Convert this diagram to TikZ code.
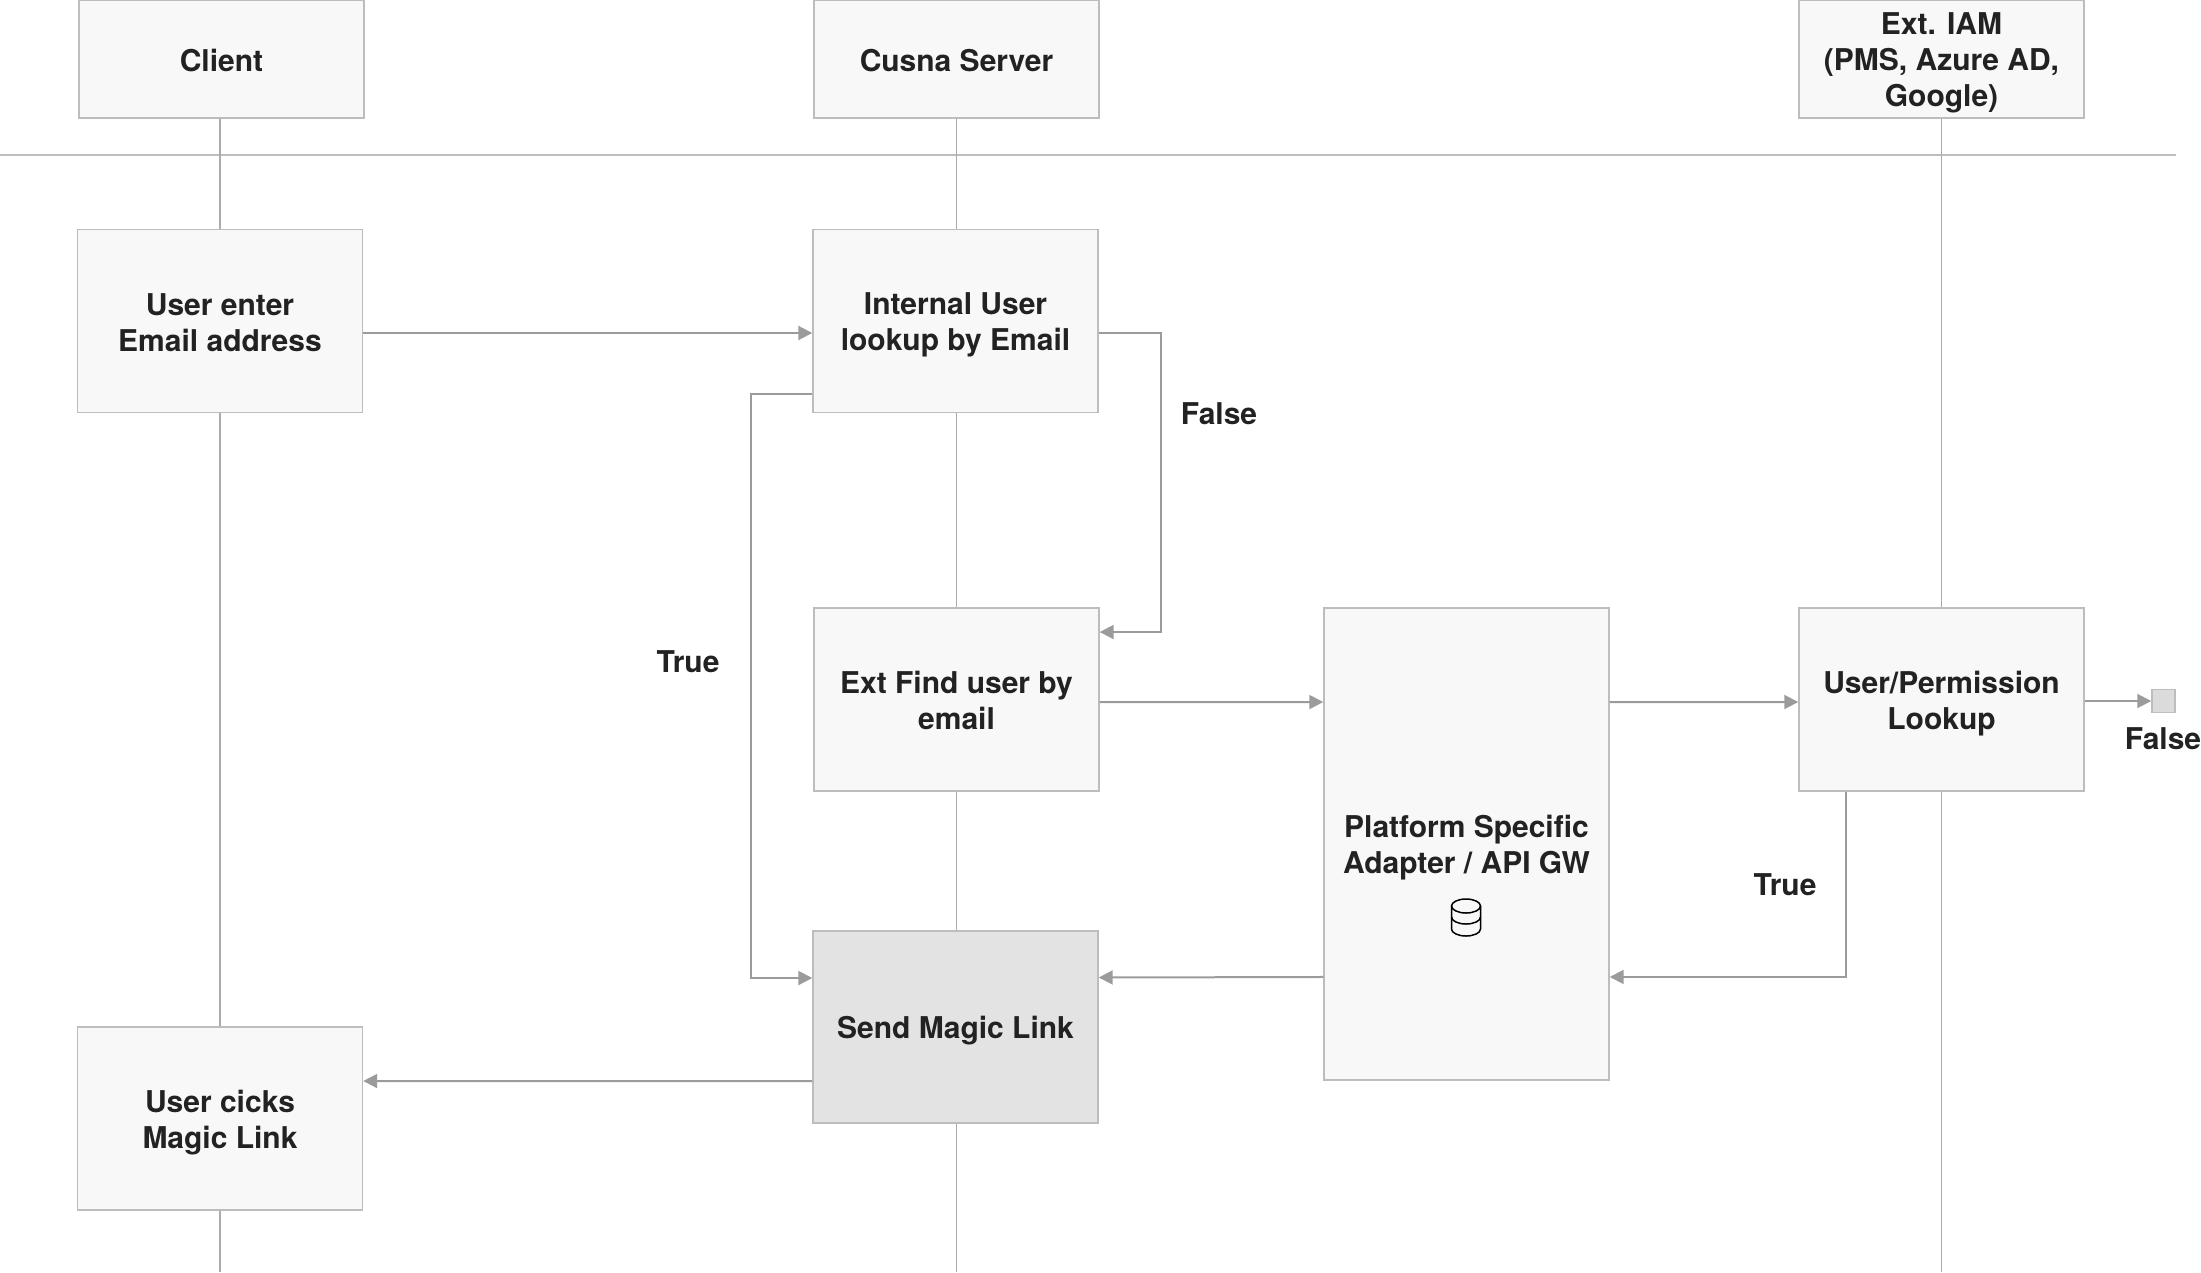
\documentclass[tikz,border=0pt]{standalone}
\usepackage{fontspec}
\setmainfont{TeX Gyre Heros}
\usetikzlibrary{arrows.meta}
\definecolor{boxfill}{HTML}{F8F8F8}
\definecolor{sendfill}{HTML}{E3E3E3}
\definecolor{stopfill}{HTML}{DBDBDB}
\definecolor{boxline}{HTML}{BDBDBD}
\definecolor{flowline}{HTML}{9B9B9B}
\definecolor{lifecolor}{HTML}{ABABAB}
\definecolor{inkcolor}{HTML}{222222}
\newcommand{\boxtext}[1]{\rule{0pt}{17pt}#1\rule[-3.2pt]{0pt}{3.2pt}}
\tikzset{
	box/.style={draw=boxline, fill=boxfill, line width=0.03cm, minimum width=5.7cm, align=center, inner sep=0pt, text=inkcolor, font=\fontsize{17.07}{20.5}\selectfont\bfseries},
	note/.style={inner sep=0pt, text=inkcolor, font=\fontsize{17.07}{20.5}\selectfont\bfseries},
	flow/.style={draw=flowline, line width=0.04cm, -{Triangle[length=0.28cm,width=0.28cm]}},
	lifeline/.style={draw=lifecolor, line width=0.026cm},
	divider/.style={draw=boxline, line width=0.03cm}
}

\begin{document}
\begin{tikzpicture}[x=0.02cm, y=-0.02cm]
			%%%%% START %%%%%
			\useasboundingbox (0, 0) rectangle (2201, 1272);
			
			\coordinate (ruleL) at (0, 155);
			\coordinate (ruleR) at (2176, 155);
			\draw[divider] (ruleL) -- (ruleR);
			
			%%%%% columns
			\node[box, minimum height=2.36cm] (client) at (221.5, 59) {\boxtext{Client}};
			\node[box, minimum height=2.36cm] (server) at (956.5, 59) {\boxtext{Cusna Server}};
			\node[box, minimum height=2.36cm] (iam) at (1941.5, 59) {\boxtext{Ext. IAM\\(PMS, Azure AD,\\Google)}};
			
			%%%%% steps
			\node[box, minimum height=3.66cm] (enter) at (220, 321) {\boxtext{User enter\\Email address}};
			\node[box, minimum height=3.66cm] (internal) at (955.5, 321) {\boxtext{Internal User\\lookup by Email}};
			\node[box, minimum height=3.66cm] (extfind) at (956.5, 699.5) {\boxtext{Ext Find user by\\email}};
			\node[box, minimum height=3.84cm, fill=sendfill] (send) at (955.5, 1027) {\boxtext{Send Magic Link}};
			\node[box, minimum height=3.66cm] (clicks) at (220, 1118.5) {\boxtext{User cicks\\Magic Link}};
			\node[box, minimum height=9.44cm] (platform) at (1466.5, 844) {\boxtext{Platform Specific\\Adapter / API GW}};
			\node[box, minimum height=3.66cm] (lookup) at (1941.5, 699.5) {\boxtext{User/Permission\\Lookup}};
			\node[draw=boxline, fill=stopfill, line width=0.03cm, minimum size=0.46cm, inner sep=0pt] (stop) at (2163.5, 701) {};
			
			%%%%% lifelines
			\coordinate (clientEnd) at (220, 1272);
			\coordinate (serverEnd) at (956.5, 1272);
			\coordinate (iamEnd) at (1941.5, 1272);
			\draw[lifeline] (client.south -| enter.north) -- (enter.north);
			\draw[lifeline] (enter.south) -- (clicks.north);
			\draw[lifeline] (clicks.south) -- (clientEnd);
			\draw[lifeline] (server.south) -- (server.south |- internal.north);
			\draw[lifeline] (server.south |- internal.south) -- (extfind.north);
			\draw[lifeline] (extfind.south) -- (extfind.south |- send.north);
			\draw[lifeline] (extfind.south |- send.south) -- (serverEnd);
			\draw[lifeline] (iam.south) -- (lookup.north);
			\draw[lifeline] (lookup.south) -- (iamEnd);
			
			%%%%% flows
			\draw[flow] ([yshift=-0.24cm]enter.east) -- ([yshift=-0.24cm]internal.west);
			\draw[flow] ([yshift=-0.24cm]internal.east) -- ++(62, 0) |- ([yshift=1.35cm]extfind.east);
			\draw[flow] ([yshift=-1.47cm]internal.west) -- ++(-61, 0) |- ([yshift=0.98cm]send.west);
			\draw[flow] ([yshift=-0.05cm]extfind.east) -- ([yshift=2.84cm]platform.west);
			\draw[flow] ([yshift=2.84cm]platform.east) -- ([yshift=-0.05cm]lookup.west);
			\draw[flow] (lookup.east |- stop.west) -- (stop.west);
			\draw[flow] ([xshift=-1.91cm]lookup.south) |- ([yshift=-2.66cm]platform.east);
			\draw[flow] ([yshift=-2.66cm]platform.west) -- ([yshift=0.99cm]send.east);
			\draw[flow] ([yshift=-1.08cm]send.west) -- ([yshift=0.75cm]clicks.east);
			
			%%%%% labels
			\node[note] (falseA) at (1219, 414) {False};
			\node[note] (trueA) at (688, 662) {True};
			\node[note] (trueB) at (1785, 885) {True};
			\node[note] (falseB) at (2163, 739) {False};
			
			%%%%% database icon
			\draw[black, line width=0.03cm] (1466, 906) ellipse (0.29cm and 0.14cm);
			\draw[black, line width=0.03cm] (1451.5, 906) -- (1451.5, 929) arc[start angle=180, end angle=360, x radius=0.29cm, y radius=0.14cm] -- (1480.5, 906);
			\draw[black, line width=0.03cm] (1451.5, 917) arc[start angle=180, end angle=360, x radius=0.29cm, y radius=0.14cm];
			%%%%% END %%%%%
		\end{tikzpicture}
\end{document}
